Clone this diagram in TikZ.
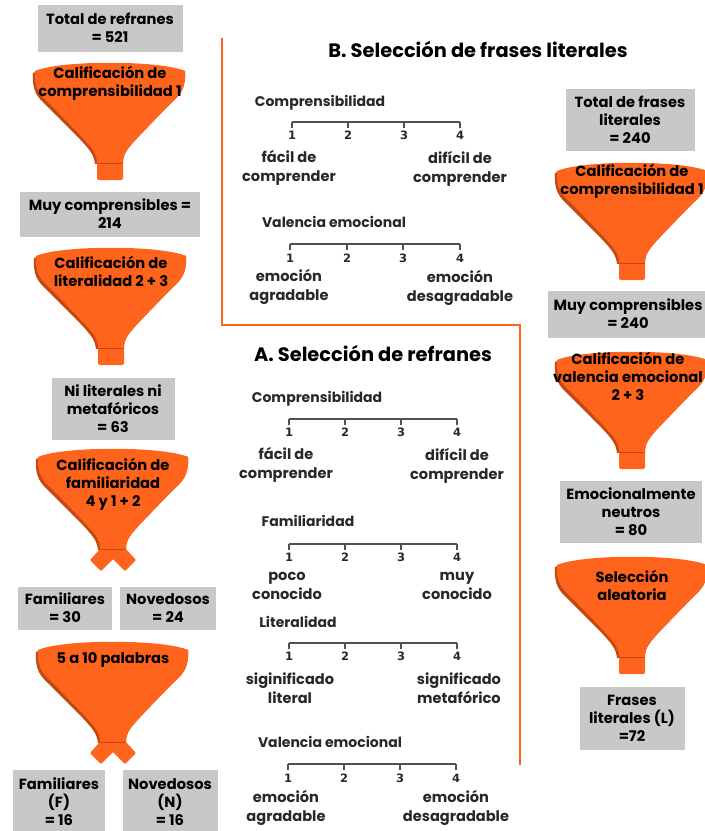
\documentclass[tikz,border=0pt]{standalone}
\usepackage{fontspec}
\setmainfont{Poppins}
\newfontfamily\numfont{DejaVu Sans}
\usepackage{tikz}
\usetikzlibrary{positioning,calc}

\definecolor{funnelorange}{RGB}{255,100,28}
\definecolor{funneldark}{RGB}{196,72,16}
\definecolor{boxgray}{RGB}{200,200,200}
\definecolor{scalegray}{RGB}{80,80,80}
\definecolor{labelgray}{RGB}{40,40,40}

\tikzset{
  box/.style={fill=boxgray, align=center, inner sep=0pt,
    font=\bfseries\fontsize{14.7}{18}\selectfont},
  ftext/.style={align=center, inner sep=0pt,
    font=\bfseries\fontsize{14.7}{18}\selectfont},
  title/.style={inner sep=0pt, font=\bfseries\fontsize{19.4}{23}\selectfont},
  scalename/.style={inner sep=0pt, text=labelgray, font=\bfseries\fontsize{14}{16}\selectfont},
  anchorword/.style={align=center, inner sep=0pt, text=labelgray,
    font=\bfseries\fontsize{14.6}{18.5}\selectfont},
  num/.style={inner sep=0pt, text=labelgray, font=\numfont\bfseries\fontsize{11.5}{13}\selectfont},
  scaleline/.style={scalegray, line width=1.3pt},
  sectline/.style={funnelorange, line width=2.4pt},
  cone/.pic={
    \fill[funneldark] (-77,10) .. controls (-50,-1) and (50,-1) .. (75,8)
      .. controls (76,26) and (70,32) .. (60,41) -- (30,72)
      .. controls (18,85) and (13,90) .. (13,100) -- (-15,101)
      .. controls (-16,91) and (-21,86) .. (-33,73) -- (-63,43)
      .. controls (-73,34) and (-78,28) .. (-77,10) -- cycle;
    \fill[funnelorange] (-75,8) .. controls (-50,-3) and (50,-3) .. (75,8)
      .. controls (76,26) and (70,32) .. (60,41) -- (30,72)
      .. controls (18,85) and (13,90) .. (13,100) -- (-13,100)
      .. controls (-13,90) and (-18,85) .. (-30,72) -- (-60,41)
      .. controls (-70,32) and (-76,26) .. (-75,8) -- cycle;
  },
  funnel/.pic={
    \pic {cone};
    \fill[funnelorange, rounded corners=2pt] (-13,100) -- (-13,117) -- (13,117) -- (13,100) -- cycle;
    \draw[funneldark, line width=0.8pt] (-13,100) -- (13,100);
  },
  splitfunnel/.pic={
    \pic {cone};
    \fill[funnelorange, rounded corners=1pt] (-13,100) -- (-23,111) -- (-12,122) -- (0,110)
      -- (12,122) -- (23,111) -- (13,100) -- cycle;
    \draw[funneldark, line width=0.8pt] (-13,100) -- (13,100);
  }
}

\begin{document}
\begin{tikzpicture}[x=1pt, y=-1pt]
\useasboundingbox (0,0) rectangle (705,831);

\draw[sectline] (222,38) -- (222,325) -- (520,325) -- (520,765);

\pic at (110,63) {funnel};
\pic at (111,248) {funnel};
\pic at (113,449) {splitfunnel};
\pic at (113,642) {splitfunnel};
\pic at (632,163) {funnel};
\pic at (632,352) {funnel};
\pic at (632,557) {funnel};

\node[box, minimum width=145, minimum height=47] (total521) at (110,28) {Total de refranes\\= 521};
\node[ftext] (calcomp) at (110,83) {Calificación de\\comprensibilidad 1};
\node[box, minimum width=180, minimum height=45] (muy214) at (110,214) {Muy comprensibles =\\214};
\node[ftext] (callit) at (111,271) {Calificación de\\literalidad 2 + 3};
\node[box, minimum width=123, minimum height=62] (ni63) at (113,409) {Ni literales ni\\metafóricos\\= 63};
\node[ftext] (calfam) at (113,484) {Calificación de\\familiaridad\\4 y 1 + 2};
\node[box, minimum width=94, minimum height=43] (fam30) at (65,608) {Familiares\\= 30};
\node[box, minimum width=96, minimum height=43] (nov24) at (168,608) {Novedosos\\= 24};
\node[ftext] (palabras) at (113,660) {5 a 10 palabras};
\node[box, minimum width=92, minimum height=64] (famF) at (59,802) {Familiares\\(F)\\= 16};
\node[box, minimum width=95, minimum height=64] (novN) at (170,802) {Novedosos\\(N)\\= 16};

\node[box, minimum width=129, minimum height=62] (total240) at (630,120) {Total de frases\\literales\\= 240};
\node[ftext] (calcompL) at (632,181) {Calificación de\\comprensibilidad 1};
\node[box, minimum width=160, minimum height=47] (muy240) at (628,314) {Muy comprensibles\\= 240};
\node[ftext] (calval) at (628,376) {Calificación de\\valencia emocional\\2 + 3};
\node[box, minimum width=142, minimum height=62] (emo80) at (631,512) {Emocionalmente\\neutros\\= 80};
\node[ftext] (aleatoria) at (632,585) {Selección\\aleatoria};
\node[box, minimum width=105, minimum height=63] (frL) at (632,718) {Frases\\literales (L)\\=72};

\node[title] (titleB) at (478,49) {B. Selección de frases literales};
\node[scalename] (compB) at (320,103) {Comprensibilidad};
\draw[scaleline] (292,122) -- (460,122);
\foreach \i/\x in {1/292,2/348,3/404,4/460} {
  \draw[scaleline] (\x,122) -- (\x,128);
  \node[num] (compB\i) at (\x,135) {\i};
}
\node[anchorword] (facilB) at (289,168) {fácil de\\comprender};
\node[anchorword] (dificilB) at (460,169) {difícil de\\comprender};
\node[scalename] (valB) at (334,222) {Valencia emocional};
\draw[scaleline] (290,244) -- (460,244);
\foreach \i/\x in {1/290,2/347,3/403,4/460} {
  \draw[scaleline] (\x,244) -- (\x,250);
  \node[num] (valB\i) at (\x,258) {\i};
}
\node[anchorword] (agradB) at (289,287) {emoción\\agradable};
\node[anchorword] (desagB) at (460,288) {emoción\\desagradable};

\node[title] (titleA) at (373,353) {A. Selección de refranes};
\node[scalename] (compA) at (317,399) {Comprensibilidad};
\draw[scaleline] (289,419) -- (457,419);
\foreach \i/\x in {1/289,2/345,3/401,4/457} {
  \draw[scaleline] (\x,419) -- (\x,425);
  \node[num] (compA\i) at (\x,432) {\i};
}
\node[anchorword] (facilA) at (286,465) {fácil de\\comprender};
\node[anchorword] (dificilA) at (457,466) {difícil de\\comprender};
\node[scalename] (famA) at (308,521) {Familiaridad};
\draw[scaleline] (289,544) -- (457,544);
\foreach \i/\x in {1/289,2/345,3/401,4/457} {
  \draw[scaleline] (\x,544) -- (\x,550);
  \node[num] (famA\i) at (\x,557) {\i};
}
\node[anchorword] (pocoA) at (287,586) {poco\\conocido};
\node[anchorword] (muyA) at (457,586) {muy\\conocido};
\node[scalename] (litA) at (298,622) {Literalidad};
\draw[scaleline] (289,643) -- (457,643);
\foreach \i/\x in {1/289,2/345,3/401,4/457} {
  \draw[scaleline] (\x,643) -- (\x,649);
  \node[num] (litA\i) at (\x,656) {\i};
}
\node[anchorword] (literalA) at (290,688) {siginificado\\literal};
\node[anchorword] (metaA) at (459,688) {significado\\metafórico};
\node[scalename] (valA) at (330,742) {Valencia emocional};
\draw[scaleline] (288,764) -- (456,764);
\foreach \i/\x in {1/288,2/344,3/400,4/456} {
  \draw[scaleline] (\x,764) -- (\x,770);
  \node[num] (valA\i) at (\x,778) {\i};
}
\node[anchorword] (agradA) at (286,808) {emoción\\agradable};
\node[anchorword] (desagA) at (456,808) {emoción\\desagradable};
\end{tikzpicture}
\end{document}
